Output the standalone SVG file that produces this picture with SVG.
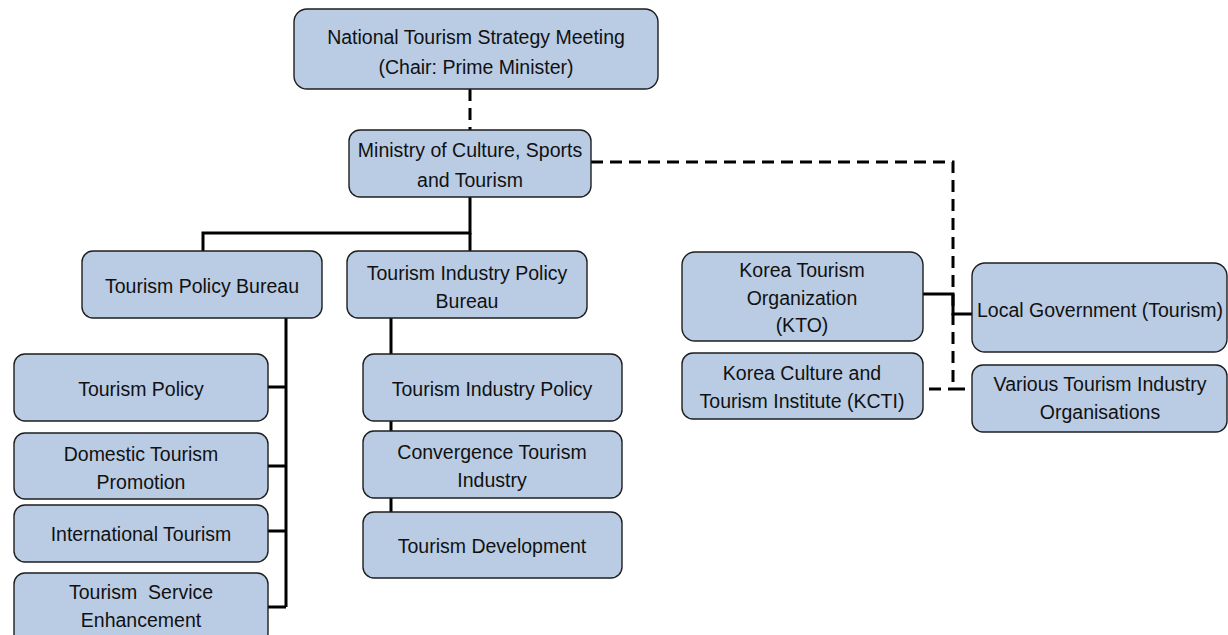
<svg xmlns="http://www.w3.org/2000/svg" width="1228" height="635" viewBox="0 0 1228 635">
  <style>
    .box { fill: #b9cce4; stroke: #1e1e1e; stroke-width: 1.4; }
    .lbl { font-family: "Liberation Sans", Arial, sans-serif; font-size: 19.5px; fill: #111; text-anchor: middle; }
    .solid { fill: none; stroke: #000; stroke-width: 3; }
    .dash { fill: none; stroke: #000; stroke-width: 3; stroke-dasharray: 12 7; }
  </style>
  <rect width="1228" height="635" fill="#fff"/>

  <!-- connectors -->
  <g id="connectors">
    <path class="dash" d="M470 89 V130"/>
    <path class="dash" d="M591 162 H953 V389 H972"/>
    <path class="dash" d="M929 389 H953"/>
    <path class="solid" d="M923 294 H953 V314 H972"/>
    <path class="solid" d="M470 197 V233 H203 V251"/>
    <path class="solid" d="M470 233 V251"/>
    <path class="solid" d="M286 318 V607"/>
    <path class="solid" d="M268 387 H286 M268 466 H286 M268 531 H286 M268 607 H286"/>
    <path class="solid" d="M391 318 V512"/>
  </g>

  <g id="strategy-meeting">
    <rect class="box" x="294" y="9" width="364" height="80" rx="13"/>
    <text class="lbl" x="476" y="44">National Tourism Strategy Meeting</text>
    <text class="lbl" x="476" y="74">(Chair: Prime Minister)</text>
  </g>

  <g id="ministry">
    <rect class="box" x="349" y="130" width="242" height="67" rx="11"/>
    <text class="lbl" x="470" y="157">Ministry of Culture, Sports</text>
    <text class="lbl" x="470" y="187">and Tourism</text>
  </g>

  <g id="policy-bureau">
    <rect class="box" x="82" y="251" width="240" height="67" rx="11"/>
    <text class="lbl" x="202" y="293">Tourism Policy Bureau</text>
  </g>

  <g id="industry-bureau">
    <rect class="box" x="347" y="251" width="240" height="67" rx="11"/>
    <text class="lbl" x="467" y="280">Tourism Industry Policy</text>
    <text class="lbl" x="467" y="308">Bureau</text>
  </g>

  <g id="tourism-policy">
    <rect class="box" x="14" y="354" width="254" height="67" rx="11"/>
    <text class="lbl" x="141" y="396">Tourism Policy</text>
  </g>

  <g id="domestic-promotion">
    <rect class="box" x="14" y="433" width="254" height="66" rx="11"/>
    <text class="lbl" x="141" y="461">Domestic Tourism</text>
    <text class="lbl" x="141" y="489">Promotion</text>
  </g>

  <g id="international">
    <rect class="box" x="14" y="505" width="254" height="57" rx="11"/>
    <text class="lbl" x="141" y="541">International Tourism</text>
  </g>

  <g id="service-enhancement">
    <rect class="box" x="14" y="573" width="254" height="72" rx="11"/>
    <text class="lbl" x="141" y="599" style="white-space:pre">Tourism  Service</text>
    <text class="lbl" x="141" y="627">Enhancement</text>
  </g>

  <g id="industry-policy">
    <rect class="box" x="363" y="354" width="259" height="67" rx="11"/>
    <text class="lbl" x="492" y="396">Tourism Industry Policy</text>
  </g>

  <g id="convergence">
    <rect class="box" x="363" y="431" width="259" height="67" rx="11"/>
    <text class="lbl" x="492" y="459">Convergence Tourism</text>
    <text class="lbl" x="492" y="487">Industry</text>
  </g>

  <g id="development">
    <rect class="box" x="363" y="512" width="259" height="66" rx="11"/>
    <text class="lbl" x="492" y="553">Tourism Development</text>
  </g>

  <g id="kto">
    <rect class="box" x="682" y="252" width="241" height="89" rx="13"/>
    <text class="lbl" x="802" y="277">Korea Tourism</text>
    <text class="lbl" x="802" y="305">Organization</text>
    <text class="lbl" x="802" y="332">(KTO)</text>
  </g>

  <g id="kcti">
    <rect class="box" x="682" y="353" width="241" height="66" rx="11"/>
    <text class="lbl" x="802" y="380">Korea Culture and</text>
    <text class="lbl" x="802" y="408">Tourism Institute (KCTI)</text>
  </g>

  <g id="local-government">
    <rect class="box" x="972" y="263" width="255" height="89" rx="13"/>
    <text class="lbl" x="1100" y="317">Local Government (Tourism)</text>
  </g>

  <g id="industry-organisations">
    <rect class="box" x="972" y="365" width="255" height="67" rx="11"/>
    <text class="lbl" x="1100" y="391">Various Tourism Industry</text>
    <text class="lbl" x="1100" y="419">Organisations</text>
  </g>
</svg>
